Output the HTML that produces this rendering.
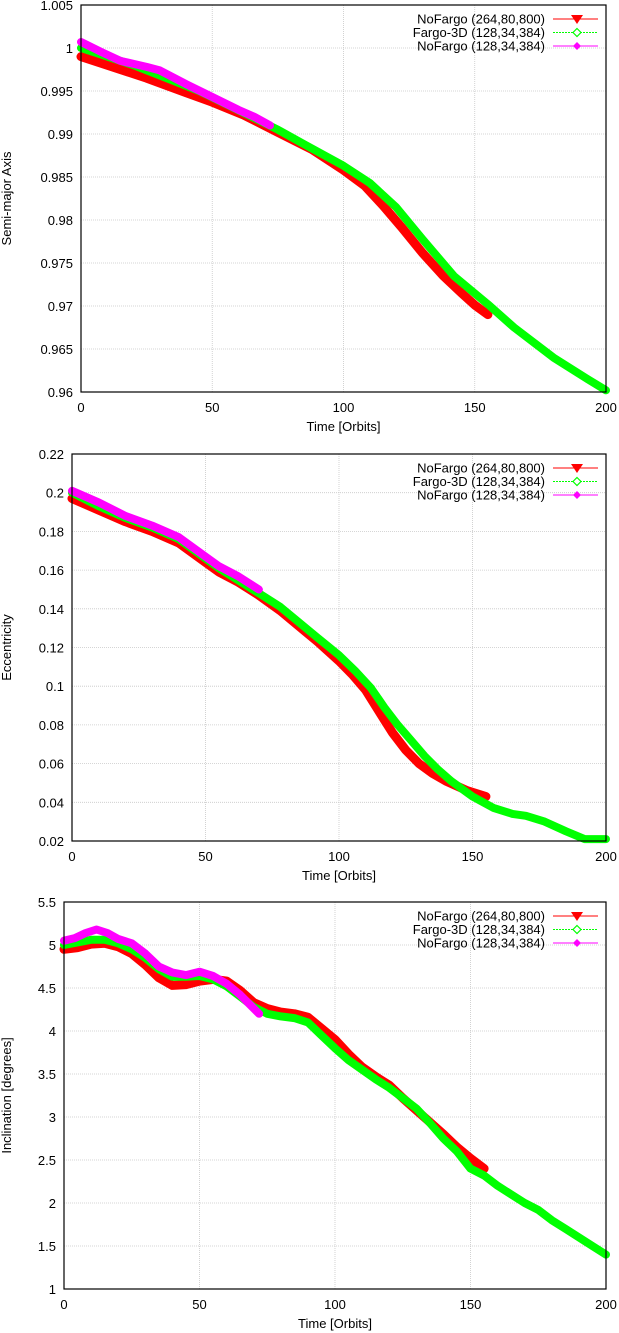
<!DOCTYPE html>
<html><head><meta charset="utf-8">
<style>
html,body{margin:0;padding:0;background:#fff;}
svg{display:block;font-family:"Liberation Sans",sans-serif;}
</style></head>
<body>
<svg id="chart" width="619" height="1333" xmlns="http://www.w3.org/2000/svg"></svg>
<script>
// Panel 1: semi-major axis
const aRedT = [0, 10, 25, 40, 50, 62, 75, 88, 100, 108, 115, 122, 130, 138, 145, 150, 155];
const aRedV = [0.9990, 0.9980, 0.9965, 0.9948, 0.9937, 0.9922, 0.9902, 0.9882, 0.9858, 0.9840, 0.9817, 0.9792, 0.9762, 0.9735, 0.9715, 0.9701, 0.9690];
const aGreenT = [0, 10, 20, 35, 45, 55, 65, 75, 85, 100, 110, 120, 130, 142, 155, 165, 180, 193, 200];
const aGreenV = [1.0000, 0.9990, 0.9980, 0.9962, 0.9950, 0.9935, 0.9920, 0.9905, 0.9888, 0.9863, 0.9843, 0.9815, 0.9778, 0.9735, 0.9702, 0.9675, 0.9640, 0.9615, 0.9602];
const aMagT = [0, 8, 15, 25, 30, 40, 50, 60, 66, 72];
const aMagV = [1.0007, 0.9995, 0.9985, 0.9978, 0.9974, 0.9958, 0.9943, 0.9928, 0.9920, 0.9910];
// Panel 2: eccentricity
const eRedT = [0, 10, 20, 30, 40, 50, 55, 62, 70, 78, 85, 92, 100, 105, 110, 115, 120, 125, 130, 135, 140, 148, 155];
const eRedV = [0.197, 0.191, 0.185, 0.180, 0.174, 0.164, 0.159, 0.154, 0.147, 0.139, 0.131, 0.123, 0.113, 0.106, 0.098, 0.087, 0.076, 0.067, 0.060, 0.055, 0.051, 0.046, 0.043];
const eGreenT = [0, 10, 20, 30, 40, 50, 55, 62, 70, 78, 85, 92, 100, 106, 112, 117, 122, 127, 132, 137, 142, 150, 158, 165, 170, 177, 185, 192, 200];
const eGreenV = [0.200, 0.193, 0.187, 0.182, 0.176, 0.166, 0.161, 0.155, 0.148, 0.141, 0.133, 0.125, 0.116, 0.108, 0.099, 0.089, 0.080, 0.072, 0.064, 0.057, 0.051, 0.043, 0.037, 0.034, 0.033, 0.030, 0.025, 0.021, 0.021];
const eMagT = [0, 10, 20, 30, 40, 50, 55, 62, 70];
const eMagV = [0.201, 0.195, 0.188, 0.183, 0.177, 0.167, 0.162, 0.157, 0.150];
// Panel 3: inclination
const iRedT = [0, 5, 10, 15, 20, 25, 30, 35, 40, 45, 50, 55, 60, 65, 70, 75, 80, 85, 90, 95, 100, 105, 110, 115, 120, 125, 130, 135, 140, 145, 150, 155];
const iRedV = [4.95, 4.97, 5.01, 5.02, 4.98, 4.90, 4.77, 4.62, 4.53, 4.54, 4.58, 4.60, 4.58, 4.47, 4.33, 4.26, 4.22, 4.20, 4.16, 4.03, 3.90, 3.73, 3.58, 3.47, 3.37, 3.22, 3.08, 2.94, 2.80, 2.65, 2.52, 2.40];
const iGreenT = [0, 5, 10, 15, 20, 25, 30, 35, 40, 45, 50, 55, 60, 65, 70, 75, 80, 85, 90, 95, 100, 105, 110, 115, 120, 125, 130, 135, 140, 145, 150, 155, 160, 165, 170, 175, 180, 185, 190, 195, 200];
const iGreenV = [5.00, 5.03, 5.06, 5.06, 5.02, 4.95, 4.85, 4.72, 4.63, 4.63, 4.64, 4.60, 4.52, 4.40, 4.28, 4.20, 4.17, 4.15, 4.10, 3.95, 3.80, 3.66, 3.55, 3.44, 3.34, 3.22, 3.10, 2.93, 2.75, 2.60, 2.40, 2.32, 2.20, 2.10, 2.00, 1.92, 1.80, 1.70, 1.60, 1.50, 1.40];
const iMagT = [0, 4, 8, 12, 16, 20, 25, 30, 35, 40, 45, 50, 55, 60, 65, 72];
const iMagV = [5.05, 5.08, 5.14, 5.18, 5.14, 5.07, 5.02, 4.90, 4.75, 4.68, 4.65, 4.69, 4.64, 4.55, 4.42, 4.20];

const xTicks = [0, 50, 100, 150, 200];
const aTicks = ["0.96","0.965","0.97","0.975","0.98","0.985","0.99","0.995","1","1.005"];
const eTicks = ["0.02","0.04","0.06","0.08","0.1","0.12","0.14","0.16","0.18","0.2","0.22"];
const iTicks = ["1","1.5","2","2.5","3","3.5","4","4.5","5","5.5"];
const legendLabels = ["NoFargo (264,80,800)", "Fargo-3D (128,34,384)", "NoFargo (128,34,384)"];

const NS = "http://www.w3.org/2000/svg";
const svg = document.getElementById("chart");
function mk(tag, attrs, parent) {
  const e = document.createElementNS(NS, tag);
  for (const k in attrs) e.setAttribute(k, attrs[k]);
  (parent || svg).appendChild(e);
  return e;
}
const COLORS = ["#ff0000", "#00ff00", "#ff00ff"];

function panel(cfg) {
  const g = mk("g", {});
  
  
  const L = cfg.left, R = 606, T = cfg.top, B = cfg.top + 387;
  const yMin = parseFloat(cfg.yTicks[0]), yMax = parseFloat(cfg.yTicks[cfg.yTicks.length - 1]);
  const sx = t => L + (t - 0) / 200 * (R - L);
  const sy = v => B - (v - yMin) / (yMax - yMin) * (B - T);
  cfg.yTicks.forEach(s => {
    const y = sy(parseFloat(s));
    const gl = mk("line", {x1: L, x2: R, y1: y, y2: y, stroke: "#c8c8c8", "stroke-width": 0.8, "stroke-dasharray": "1,1"}, g);
    
    
    const tl = mk("text", {x: L - 8, y: y + 5, "text-anchor": "end", "font-size": 13}, g);
    tl.textContent = s;
    
    
  });
  xTicks.forEach(t => {
    const x = sx(t);
    const gl = mk("line", {x1: x, x2: x, y1: T, y2: B, stroke: "#c8c8c8", "stroke-width": 0.8, "stroke-dasharray": "1,1"}, g);
    
    
    const tl = mk("text", {x: x, y: B + 20, "text-anchor": "middle", "font-size": 13}, g);
    tl.textContent = String(t);
    
    
  });
  const xt = mk("text", {x: (L + R) / 2, y: B + 39, "text-anchor": "middle", "font-size": 13}, g);
  xt.textContent = "Time [Orbits]";
  
  
  const yt = mk("text", {x: 0, y: 0, "text-anchor": "middle", "font-size": 13, transform: `translate(11,${(T + B) / 2}) rotate(-90)`}, g);
  yt.textContent = cfg.yTitle;
  
  
  const widths = [9, 8, 8];
  cfg.series.forEach((s, i) => {
    const pts = s[0].map((t, k) => sx(t).toFixed(1) + "," + sy(s[1][k]).toFixed(1)).join(" ");
    const pl = mk("polyline", {points: pts, fill: "none", stroke: COLORS[i], "stroke-width": widths[i], "stroke-linejoin": "round", "stroke-linecap": "round"}, g);
    
    
  });
  const fr = mk("rect", {x: L, y: T, width: R - L, height: B - T, fill: "none", stroke: "#000", "stroke-width": 1.2}, g);
  
  
  legendLabels.forEach((lab, i) => {
    const y = T + 14 + i * 13.5;
    const lg = mk("g", {}, g);
    
    
    const tx = mk("text", {x: 545, y: y + 4.5, "text-anchor": "end", "font-size": 13}, lg);
    tx.textContent = lab;
    mk("line", {x1: 553, x2: 598, y1: y, y2: y, stroke: COLORS[i], "stroke-width": 1, "stroke-dasharray": i === 1 ? "2,1" : ""}, lg);
    if (i === 0) mk("polygon", {points: `${571},${y - 4} ${583},${y - 4} ${577},${y + 5}`, fill: COLORS[0]}, lg);
    if (i === 1) mk("polygon", {points: `${577},${y - 4} ${581},${y} ${577},${y + 4} ${573},${y}`, fill: "#fff", stroke: COLORS[1], "stroke-width": 1.2}, lg);
    if (i === 2) mk("polygon", {points: `${577},${y - 4} ${581},${y} ${577},${y + 4} ${573},${y}`, fill: COLORS[2]}, lg);
  });
}

panel({name: "semi-major-axis-panel", left: 81, top: 5, yTicks: aTicks, yTitle: "Semi-major Axis",
  series: [[aRedT, aRedV], [aGreenT, aGreenV], [aMagT, aMagV]]});
panel({name: "eccentricity-panel", left: 72, top: 454, yTicks: eTicks, yTitle: "Eccentricity",
  series: [[eRedT, eRedV], [eGreenT, eGreenV], [eMagT, eMagV]]});
panel({name: "inclination-panel", left: 64, top: 902, yTicks: iTicks, yTitle: "Inclination  [degrees]",
  series: [[iRedT, iRedV], [iGreenT, iGreenV], [iMagT, iMagV]]});
</script>
</body></html>
